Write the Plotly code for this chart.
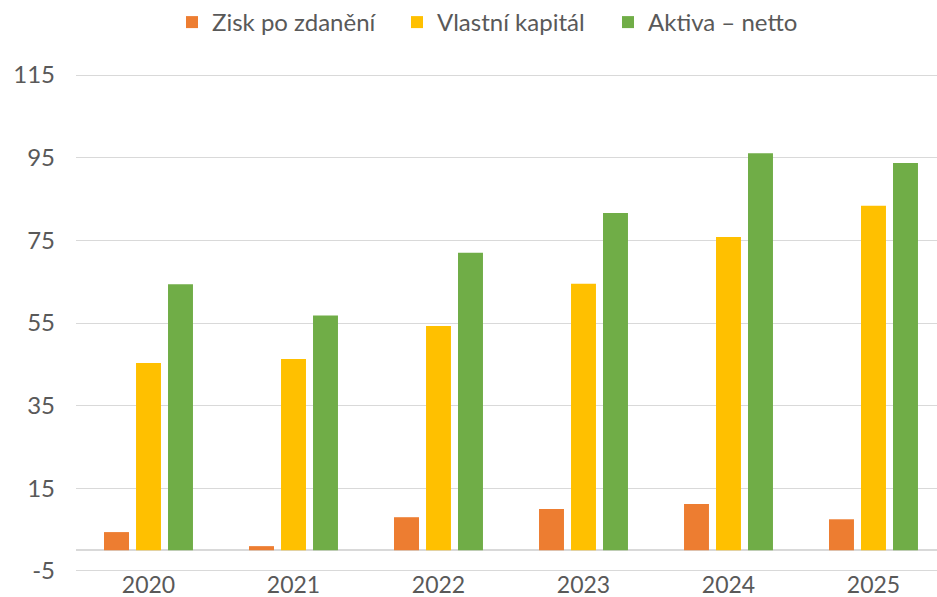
import plotly.graph_objects as go

years = ["2020", "2021", "2022", "2023", "2024", "2025"]
zisk = [4.4, 1.0, 8.0, 10.0, 11.2, 7.5]
kapital = [45.3, 46.3, 54.3, 64.5, 75.8, 83.4]
aktiva = [64.4, 56.8, 72.0, 81.6, 96.1, 93.7]

names = ["Zisk po zdanění", "Vlastní kapitál", "Aktiva – netto"]
colors = ["#ED7D31", "#FFC000", "#70AD47"]
ytick_vals = [-5, 15, 35, 55, 75, 95, 115]
ytick_text = ["-5", "15", "35", "55", "75", "95", "115"]

font = "Lato, Open Sans, sans-serif"
fs = 24
legend_ids = ["legend2", "legend3", "legend4"]
legend_x = [172, 397, 608]

fig = go.Figure()
for n, vals, c, lid in zip(names, [zisk, kapital, aktiva], colors, legend_ids):
    fig.add_trace(go.Bar(x=years, y=vals, name=n, legend=lid, showlegend=True,
                         marker=dict(color=c, line=dict(width=0))))

legend_common = dict(orientation="h", xref="container", yref="container", y=1.0,
                     yanchor="top", xanchor="left", itemwidth=30,
                     font=dict(size=fs, color="#595959"), bgcolor="rgba(0,0,0,0)")
legends = {}
for lid, lx in zip(legend_ids, legend_x):
    legends[lid] = dict(legend_common, x=lx / 937)

fig.update_layout(
    width=937, height=597,
    showlegend=True,
    margin=dict(l=76, r=0, t=73, b=24),
    paper_bgcolor="white", plot_bgcolor="white",
    barmode="group", bargap=0.338, bargroupgap=0.22,
    font=dict(family=font, size=fs, color="#595959"),
    xaxis=dict(type="category", range=[-0.5, 5.438], showgrid=False, showline=False,
               ticks="", automargin=False, ticklabelstandoff=-4,
               tickfont=dict(size=23, color="#595959")),
    yaxis=dict(range=[-5.5, 115.5], tickmode="array", tickvals=ytick_vals, ticktext=ytick_text,
               showgrid=True, gridcolor="#d9d9d9", automargin=False,
               gridwidth=1, zeroline=True, zerolinecolor="#d9d9d9", zerolinewidth=1.5,
               showline=False, ticks="", ticklabelstandoff=20,
               tickfont=dict(size=fs, color="#595959")),
    **legends,
)
fig.write_html("out.html")
